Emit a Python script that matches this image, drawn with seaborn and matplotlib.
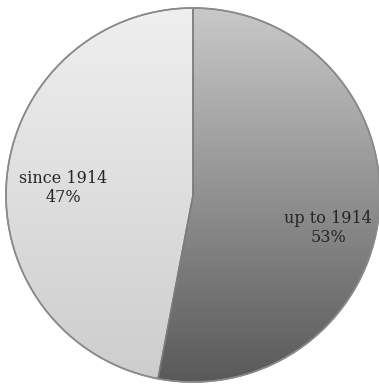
import numpy as np
import matplotlib
matplotlib.use("Agg")
import matplotlib.pyplot as plt
from matplotlib.colors import LinearSegmentedColormap
import seaborn as sns

# Share of items by period
categories = ["up to 1914", "since 1914"]
shares = [53, 47]

sns.set_theme(style="white")
plt.rcParams["font.family"] = ["DejaVu Serif", "Liberation Serif"]

W, H, DPI = 379, 385, 100
fig = plt.figure(figsize=(W / DPI, H / DPI), dpi=DPI)
ax = fig.add_axes([0, 0, 1, 1])

wedges, _ = ax.pie(
    shares,
    startangle=90,
    counterclock=False,
    radius=1.0,
    wedgeprops=dict(linewidth=1.0, edgecolor="#7c7c7c"),
)

# vertical gray gradients for each slice (top colour, bottom colour)
gradients = [("#c9c9c9", "#595959"), ("#efefef", "#cdcdcd")]
grad = np.linspace(0, 1, 256).reshape(-1, 1)
for w, (top, bot) in zip(wedges, gradients):
    w.set_facecolor("none")
    cmap = LinearSegmentedColormap.from_list("g", [top, bot])
    im = ax.imshow(grad, cmap=cmap, extent=(-1, 1, -1, 1), origin="upper",
                   aspect="auto", zorder=w.get_zorder() - 0.1, interpolation="bilinear")
    im.set_clip_path(w)

# pie geometry expressed in pixels, then mapped to unit-radius data space
cx, cy, R = 193.0, 195.0, 187.0
ax.set_aspect("auto")
ax.set_xlim(-cx / R, (W - cx) / R)
ax.set_ylim(-(H - cy) / R, cy / R)
ax.axis("off")

# outer rim
rim = plt.Circle((0, 0), 1.0, fill=False, edgecolor="#8a8a8a", linewidth=1.2, zorder=5)
ax.add_patch(rim)

# slice labels
label_px = [(328, 228), (63, 188)]
for name, val, (px, py) in zip(categories, shares, label_px):
    ax.text((px - cx) / R, (cy - py) / R, f"{name}\n{val}%", ha="center", va="center",
            fontsize=11.5, color="#262626", linespacing=1.1, zorder=6)

fig.savefig("out.png", dpi=DPI)
